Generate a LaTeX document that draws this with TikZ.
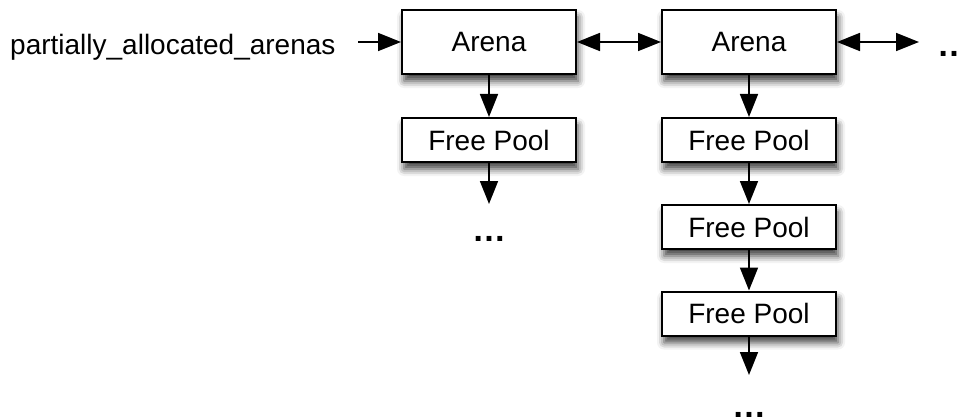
\documentclass[tikz,border=0pt]{standalone}
\usepackage{fontspec}
\setmainfont{Liberation Sans}
\usetikzlibrary{arrows.meta,shadows.blur}

\tikzset{
  box/.style={draw=black, line width=2pt, fill=white, minimum width=174pt,
    inner sep=0pt, font=\fontsize{28}{33}\selectfont,
    blur shadow={shadow xshift=2pt, shadow yshift=-7pt, shadow blur radius=7pt, shadow opacity=75}},
  arenabox/.style={box, minimum height=64pt},
  poolbox/.style={box, minimum height=44pt},
  tip/.tip={Triangle[length=23pt, width=18pt]},
  link/.style={line width=1.7pt, -tip},
  dlink/.style={line width=1.7pt, tip-tip},
  txt/.style={font=\fontsize{28}{33}\selectfont, inner sep=0pt},
  more/.style={font=\fontsize{34}{40}\selectfont\bfseries, inner sep=0pt}
}

\begin{document}
\begin{tikzpicture}[x=1pt, y=-1pt]
  \useasboundingbox (0,0) rectangle (962,420);

  % list head
  \node[txt, anchor=base west] (head) at (10,55) {partially\_allocated\_arenas};
  \coordinate (headout) at (358,42);

  % arenas
  \node[arenabox] (a1) at (489,42) {Arena};
  \node[arenabox] (a2) at (749,42) {Arena};
  \coordinate (nextarena) at (919,42);
  \node[more, anchor=base west] (dotsR) at (937,57) {…};

  % pools of the first arena
  \node[poolbox] (p11) at (489,140) {Free Pool};
  \coordinate (p1end) at (489,204);
  \node[more, anchor=base] (dots1) at (489,241) {…};

  % pools of the second arena
  \node[poolbox] (p21) at (749,140) {Free Pool};
  \node[poolbox] (p22) at (749,227) {Free Pool};
  \node[poolbox] (p23) at (749,313.5) {Free Pool};
  \coordinate (p2end) at (749,375);
  \node[more, anchor=base] (dots2) at (749,417) {…};

  % connectors
  \draw[link] (headout) -- (a1.west);
  \draw[dlink] (a1.east) -- (a2.west);
  \draw[dlink] (a2.east) -- (nextarena);

  \draw[link] (a1.south) -- (p11.north);
  \draw[link] (p11.south) -- (p1end);

  \draw[link] (a2.south) -- (p21.north);
  \draw[link] (p21.south) -- (p22.north);
  \draw[link] (p22.south) -- (p23.north);
  \draw[link] (p23.south) -- (p2end);
\end{tikzpicture}
\end{document}
